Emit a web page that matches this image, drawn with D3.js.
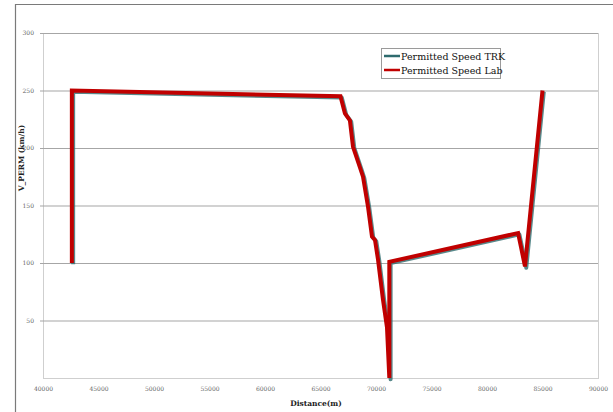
<!DOCTYPE html>
<html>
<head>
<meta charset="utf-8">
<script src="https://cdn.jsdelivr.net/npm/d3@7/dist/d3.min.js"></script>
<style>
  html, body { margin: 0; padding: 0; background: #fff; }
  svg { display: block; }
  text { font-family: "DejaVu Serif", "Liberation Serif", serif; }
</style>
</head>
<body>
<svg id="chart" width="613" height="412"></svg>
<script>
// Distance (m) along the route and permitted speed (km/h)
const distance = [42600, 42600, 66800, 67200, 67650, 67930, 68560, 68830, 69280, 69640, 69910, 70180, 70630, 70990, 71200, 71200, 82800, 83060, 83420, 85000];
const speedTRK = [100, 250, 245, 230, 224, 201, 183, 175, 149, 123, 120, 103, 68, 44, 0, 101, 126, 114, 97, 250];
const speedLab = [100, 250, 245, 230, 224, 201, 183, 175, 149, 123, 120, 103, 68, 44, 0, 101, 126, 114, 97, 250];

const xTicks = [40000, 45000, 50000, 55000, 60000, 65000, 70000, 75000, 80000, 85000, 90000];
const yTicks = [50, 100, 150, 200, 250, 300];

const seriesNames = ["Permitted Speed TRK", "Permitted Speed Lab"];
const seriesColors = ["#2e6b6e", "#c00000"];

const svg = d3.select("#chart");
const plotLeft = 43, plotRight = 598, plotTop = 33, plotBottom = 378;

const x = d3.scaleLinear().domain([40000, 90000]).range([plotLeft, plotRight]);
const y = d3.scaleLinear().domain([0, 300]).range([plotBottom, plotTop]);

// outer chart frame
svg.append("path")
  .attr("d", `M15.5,412 V4.5 H613`)
  .attr("fill", "none").attr("stroke", "#7a7a7a").attr("stroke-width", 1.2);

// plot area border
svg.append("rect")
  .attr("x", plotLeft + 0.5).attr("y", plotTop + 0.5)
  .attr("width", plotRight - plotLeft).attr("height", plotBottom - plotTop)
  .attr("fill", "none").attr("stroke", "#cfcfcf").attr("stroke-width", 1);

// horizontal gridlines with small outside ticks
const yAxis = d3.axisLeft(y).tickValues(yTicks)
  .tickSize(-(plotRight - plotLeft) - 3).tickPadding(8)
  .tickFormat(d3.format("d"));
const gy = svg.append("g").attr("transform", `translate(${plotLeft - 3},0)`).call(yAxis);
gy.select(".domain").remove();
gy.selectAll(".tick line").attr("stroke", "#a6a6a6").attr("stroke-width", 1.2);
gy.selectAll(".tick text").attr("fill", "#666").attr("font-size", 6)
  .attr("font-family", "DejaVu Serif, serif").attr("x", -6);

const xAxis = d3.axisBottom(x).tickValues(xTicks).tickSize(0).tickPadding(9)
  .tickFormat(d3.format("d"));
const gx = svg.append("g").attr("transform", `translate(0,${plotBottom})`).call(xAxis);
gx.select(".domain").remove();
gx.selectAll(".tick text").attr("fill", "#666").attr("font-size", 6)
  .attr("font-family", "DejaVu Serif, serif");

// axis titles
svg.append("text")
  .attr("x", 316).attr("y", 406)
  .attr("text-anchor", "middle")
  .attr("font-size", 7.5).attr("font-weight", "bold").attr("fill", "#222")
  .text("Distance(m)");

svg.append("text")
  .attr("transform", `translate(24,158) rotate(-90)`)
  .attr("text-anchor", "middle")
  .attr("font-size", 7.5).attr("font-weight", "bold").attr("fill", "#222")
  .text("V_PERM (km/h)");

// series lines: TRK drawn beneath with a slight shadow offset, Lab on top
const line = d3.line().x(d => x(d[0])).y(d => y(d[1])).curve(d3.curveLinear);

svg.append("path")
  .datum(distance.map((d, i) => [d, speedTRK[i]]))
  .attr("d", line)
  .attr("transform", "translate(1.3,1.3)")
  .attr("fill", "none").attr("stroke", seriesColors[0])
  .attr("stroke-width", 4).attr("stroke-linejoin", "round").attr("opacity", 0.8);

svg.append("path")
  .datum(distance.map((d, i) => [d, speedLab[i]]))
  .attr("d", line)
  .attr("fill", "none").attr("stroke", seriesColors[1])
  .attr("stroke-width", 4).attr("stroke-linejoin", "miter").attr("stroke-miterlimit", 3);

// legend
const lg = svg.append("g").attr("transform", "translate(381,48)");
lg.append("rect").attr("x", 0.5).attr("y", 0.5).attr("width", 119).attr("height", 30)
  .attr("fill", "#fff").attr("stroke", "#9a9a9a").attr("stroke-width", 1);
seriesNames.forEach((name, i) => {
  const yy = 8 + i * 14;
  lg.append("line").attr("x1", 3).attr("x2", 19).attr("y1", yy).attr("y2", yy)
    .attr("stroke", seriesColors[i]).attr("stroke-width", 2.5);
  lg.append("text").attr("x", 20).attr("y", yy + 3.5)
    .attr("font-size", 9.5).attr("fill", "#111")
    .attr("font-family", "Liberation Serif, DejaVu Serif, serif")
    .text(name);
});
</script>
</body>
</html>
